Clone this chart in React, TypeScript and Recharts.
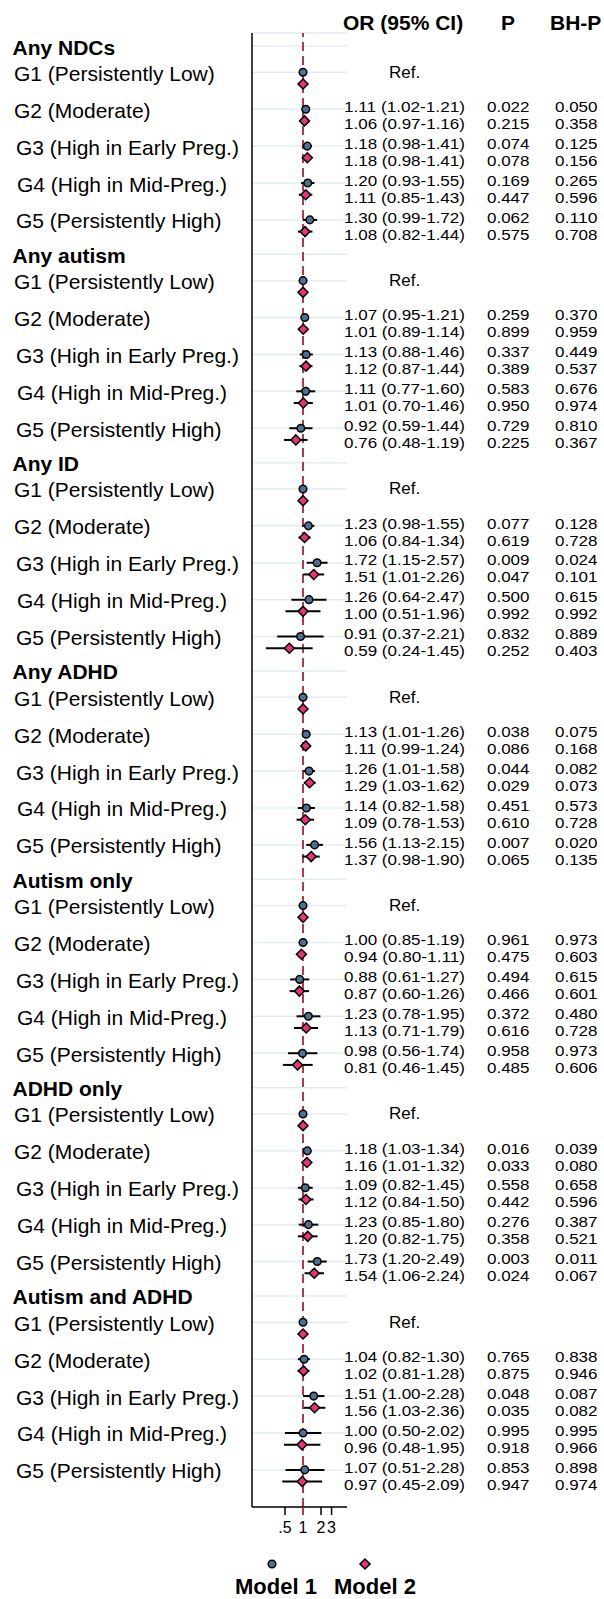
import React from 'react';
import { ScatterChart, Scatter, XAxis, YAxis, CartesianGrid, ReferenceLine, ErrorBar } from 'recharts';

// ---------------- DATA ----------------
const outcomes = ['Any NDCs', 'Any autism', 'Any ID', 'Any ADHD', 'Autism only', 'ADHD only', 'Autism and ADHD'];
const groupLabels = [
  'G1 (Persistently Low)',
  'G2 (Moderate)',
  'G3 (High in Early Preg.)',
  'G4 (High in Mid-Preg.)',
  'G5 (Persistently High)',
];

// Model 1 (G2..G5 for each outcome; G1 is the reference)
const m1Or = [
  [1.11, 1.18, 1.2, 1.3],
  [1.07, 1.13, 1.11, 0.92],
  [1.23, 1.72, 1.26, 0.91],
  [1.13, 1.26, 1.14, 1.56],
  [1.0, 0.88, 1.23, 0.98],
  [1.18, 1.09, 1.23, 1.73],
  [1.04, 1.51, 1.0, 1.07],
];
const m1Lo = [
  [1.02, 0.98, 0.93, 0.99],
  [0.95, 0.88, 0.77, 0.59],
  [0.98, 1.15, 0.64, 0.37],
  [1.01, 1.01, 0.82, 1.13],
  [0.85, 0.61, 0.78, 0.56],
  [1.03, 0.82, 0.85, 1.2],
  [0.82, 1.0, 0.5, 0.51],
];
const m1Hi = [
  [1.21, 1.41, 1.55, 1.72],
  [1.21, 1.46, 1.6, 1.44],
  [1.55, 2.57, 2.47, 2.21],
  [1.26, 1.58, 1.58, 2.15],
  [1.19, 1.27, 1.95, 1.74],
  [1.34, 1.45, 1.8, 2.49],
  [1.3, 2.28, 2.02, 2.28],
];
const m1P = [
  [0.022, 0.074, 0.169, 0.062],
  [0.259, 0.337, 0.583, 0.729],
  [0.077, 0.009, 0.5, 0.832],
  [0.038, 0.044, 0.451, 0.007],
  [0.961, 0.494, 0.372, 0.958],
  [0.016, 0.558, 0.276, 0.003],
  [0.765, 0.048, 0.995, 0.853],
];
const m1Bh = [
  [0.05, 0.125, 0.265, 0.11],
  [0.37, 0.449, 0.676, 0.81],
  [0.128, 0.024, 0.615, 0.889],
  [0.075, 0.082, 0.573, 0.02],
  [0.973, 0.615, 0.48, 0.973],
  [0.039, 0.658, 0.387, 0.011],
  [0.838, 0.087, 0.995, 0.898],
];

// Model 2
const m2Or = [
  [1.06, 1.18, 1.11, 1.08],
  [1.01, 1.12, 1.01, 0.76],
  [1.06, 1.51, 1.0, 0.59],
  [1.11, 1.29, 1.09, 1.37],
  [0.94, 0.87, 1.13, 0.81],
  [1.16, 1.12, 1.2, 1.54],
  [1.02, 1.56, 0.96, 0.97],
];
const m2Lo = [
  [0.97, 0.98, 0.85, 0.82],
  [0.89, 0.87, 0.7, 0.48],
  [0.84, 1.01, 0.51, 0.24],
  [0.99, 1.03, 0.78, 0.98],
  [0.8, 0.6, 0.71, 0.46],
  [1.01, 0.84, 0.82, 1.06],
  [0.81, 1.03, 0.48, 0.45],
];
const m2Hi = [
  [1.16, 1.41, 1.43, 1.44],
  [1.14, 1.44, 1.46, 1.19],
  [1.34, 2.26, 1.96, 1.45],
  [1.24, 1.62, 1.53, 1.9],
  [1.11, 1.26, 1.79, 1.45],
  [1.32, 1.5, 1.75, 2.24],
  [1.28, 2.36, 1.95, 2.09],
];
const m2P = [
  [0.215, 0.078, 0.447, 0.575],
  [0.899, 0.389, 0.95, 0.225],
  [0.619, 0.047, 0.992, 0.252],
  [0.086, 0.029, 0.61, 0.065],
  [0.475, 0.466, 0.616, 0.485],
  [0.033, 0.442, 0.358, 0.024],
  [0.875, 0.035, 0.918, 0.947],
];
const m2Bh = [
  [0.358, 0.156, 0.596, 0.708],
  [0.959, 0.537, 0.974, 0.367],
  [0.728, 0.101, 0.992, 0.403],
  [0.168, 0.073, 0.728, 0.135],
  [0.603, 0.601, 0.728, 0.606],
  [0.08, 0.596, 0.521, 0.067],
  [0.946, 0.082, 0.966, 0.974],
];

const xTicks = [0.5, 1, 2, 3];
const xTickLabels = ['.5', '1', '2', '3'];
const columnHeaders = ['OR (95% CI)', 'P', 'BH-P'];
const seriesNames = ['Model 1', 'Model 2'];
const refText = 'Ref.';

// ---------------- STYLE / LAYOUT ----------------
const FONT = "'Liberation Sans', Arial, Helvetica, sans-serif";
const RED = '#ab3c4a';
const BLUE = '#4b7191';
const PINK = '#e8327b';
const GRID = '#e3ecf0';

const W = 604;
const H = 1560;
const PLOT_TOP = 33;
const PLOT_H = 1474;
const GROUP_STEP = 208.33;
const HEADER_OFF = 13;
const G1_OFF = 26.3;
const G_STEP = 36.9;
const M2_OFF = 11.7;
const labelDx = [1.5, 1.5, 3.5, 4.5, 3.5];

// value text: drawn at 15px, stretched to the width a 17px face would take
const VAL_FS = 15;
const VAL_WIDTH_FS = 17;
const VAL_GAP = 17;
const charW: Record<string, number> = { '.': 0.278, ' ': 0.278, '(': 0.333, ')': 0.333, '-': 0.333 };
const textW = (s: string) => s.split('').reduce((a, c) => a + (charW[c] ?? 0.556), 0) * VAL_WIDTH_FS;

type LeftRow = { y: number; label: string; bold: boolean; x: number };
type RightRow = { y: number; ref: boolean; or: string[]; p: string[]; bh: string[] };

const leftRows: LeftRow[] = [];
const rightRows: RightRow[] = [];
const m1Points: any[] = [];
const m2Points: any[] = [];

const fmtCI = (o: number, l: number, h: number) => `${o.toFixed(2)} (${l.toFixed(2)}-${h.toFixed(2)})`;

outcomes.forEach((name, g) => {
  const hy = HEADER_OFF + g * GROUP_STEP;
  leftRows.push({ y: hy, label: name, bold: true, x: 12.5 });
  groupLabels.forEach((gl, k) => {
    const cy = hy + G1_OFF + k * G_STEP;
    const dy = cy + M2_OFF;
    leftRows.push({ y: cy, label: gl, bold: false, x: 12.5 + labelDx[k] });
    if (k === 0) {
      m1Points.push({ x: 1, y: cy, err: [0, 0] });
      m2Points.push({ x: 1, y: dy, err: [0, 0] });
      rightRows.push({ y: cy - 0.5, ref: true, or: [refText], p: [], bh: [] });
    } else {
      const j = k - 1;
      const o1 = m1Or[g][j], l1 = m1Lo[g][j], h1 = m1Hi[g][j];
      const o2 = m2Or[g][j], l2 = m2Lo[g][j], h2 = m2Hi[g][j];
      m1Points.push({ x: o1, y: cy, err: [o1 - l1, h1 - o1] });
      m2Points.push({ x: o2, y: dy, err: [o2 - l2, h2 - o2] });
      rightRows.push({
        y: (cy + dy) / 2,
        ref: false,
        or: [fmtCI(o1, l1, h1), fmtCI(o2, l2, h2)],
        p: [m1P[g][j].toFixed(3), m2P[g][j].toFixed(3)],
        bh: [m1Bh[g][j].toFixed(3), m2Bh[g][j].toFixed(3)],
      });
    }
  });
});

const leftMap = new Map(leftRows.map((r) => [r.y, r]));
const rightMap = new Map(rightRows.map((r) => [r.y, r]));

const LeftTick = (props: any) => {
  const { y, payload } = props;
  const info = leftMap.get(payload.value);
  if (!info) return null;
  return (
    <text x={info.x} y={y + 8.5} fontFamily={FONT} fontSize={21} fontWeight={info.bold ? 700 : 400} fill="#000" textAnchor="start">
      {info.label}
    </text>
  );
};

const ValText = ({ x, y, s }: { x: number; y: number; s: string }) => (
  <text
    x={x}
    y={y + 0.358 * VAL_FS}
    fontFamily={FONT}
    fontSize={VAL_FS}
    fill="#000"
    textLength={textW(s)}
    lengthAdjust="spacingAndGlyphs"
  >
    {s}
  </text>
);

const RightTick = (props: any) => {
  const { y, payload } = props;
  const r = rightMap.get(payload.value);
  if (!r) return null;
  if (r.ref) {
    return (
      <text x={389} y={y + 6} fontFamily={FONT} fontSize={17} fill="#000">
        {r.or[0]}
      </text>
    );
  }
  const y1 = y - VAL_GAP / 2;
  const y2 = y + VAL_GAP / 2;
  return (
    <g>
      <ValText x={344} y={y1} s={r.or[0]} />
      <ValText x={344} y={y2} s={r.or[1]} />
      <ValText x={487} y={y1} s={r.p[0]} />
      <ValText x={487} y={y2} s={r.p[1]} />
      <ValText x={555} y={y1} s={r.bh[0]} />
      <ValText x={555} y={y2} s={r.bh[1]} />
    </g>
  );
};

const XTick = (props: any) => {
  const { x, y, payload } = props;
  const idx = xTicks.indexOf(payload.value);
  const isOne = payload.value === 1;
  return (
    <g>
      <line x1={x} x2={x} y1={y - 8} y2={y} stroke={isOne ? RED : '#000'} strokeWidth={isOne ? 2 : 1.5} />
      <text x={x} y={y + 18} textAnchor="middle" fontFamily={FONT} fontSize={16} fill="#000">
        {xTickLabels[idx]}
      </text>
    </g>
  );
};

const CircleShape = (p: any) => <circle cx={p.cx} cy={p.cy} r={3.8} fill={BLUE} stroke="#000" strokeWidth={1.5} />;
const DiamondShape = (p: any) => {
  const s = 5;
  return (
    <polygon
      points={`${p.cx},${p.cy - s} ${p.cx + s},${p.cy} ${p.cx},${p.cy + s} ${p.cx - s},${p.cy}`}
      fill={PINK}
      stroke="#000"
      strokeWidth={1.5}
    />
  );
};

export default function App() {
  return (
    <div style={{ position: 'absolute', left: 0, top: 0, width: 604, height: 1599, background: '#fff' }}>
      <ScatterChart width={W} height={H} margin={{ top: PLOT_TOP, right: 0, bottom: 23, left: 0 }}>
        <CartesianGrid yAxisId="left" horizontal vertical={false} stroke={GRID} strokeWidth={1.5} />
        <XAxis
          dataKey="x"
          type="number"
          scale="log"
          domain={[0.1406, 5.43]}
          allowDataOverflow
          ticks={xTicks}
          interval={0}
          tick={<XTick />}
          tickLine={false}
          tickSize={8}
          tickMargin={0}
          height={30}
          axisLine={{ stroke: '#000', strokeWidth: 1.5 }}
        />
        <YAxis
          yAxisId="left"
          dataKey="y"
          type="number"
          domain={[0, PLOT_H]}
          reversed
          allowDataOverflow
          ticks={leftRows.map((r) => r.y)}
          interval={0}
          tick={<LeftTick />}
          tickLine={false}
          width={252}
          axisLine={{ stroke: '#000', strokeWidth: 1.5 }}
        />
        <YAxis
          yAxisId="right"
          orientation="right"
          type="number"
          domain={[0, PLOT_H]}
          reversed
          allowDataOverflow
          ticks={rightRows.map((r) => r.y)}
          interval={0}
          tick={<RightTick />}
          tickLine={false}
          axisLine={false}
          width={257}
        />
        <ReferenceLine yAxisId="left" x={1} stroke={RED} strokeWidth={2} strokeDasharray="9 5" />
        <Scatter name={seriesNames[0]} yAxisId="left" data={m1Points} shape={CircleShape} isAnimationActive={false}>
          <ErrorBar dataKey="err" direction="x" width={0} stroke="#000" strokeWidth={2} isAnimationActive={false} />
        </Scatter>
        <Scatter name={seriesNames[1]} yAxisId="left" data={m2Points} shape={DiamondShape} isAnimationActive={false}>
          <ErrorBar dataKey="err" direction="x" width={0} stroke="#000" strokeWidth={2} isAnimationActive={false} />
        </Scatter>
      </ScatterChart>
      <svg width={604} height={1599} style={{ position: 'absolute', left: 0, top: 0, pointerEvents: 'none' }}>
        <g fontFamily={FONT} fontSize={21} fontWeight={700} fill="#000">
          <text x={343} y={30}>{columnHeaders[0]}</text>
          <text x={501} y={30}>{columnHeaders[1]}</text>
          <text x={550} y={30}>{columnHeaders[2]}</text>
        </g>
        <circle cx={272} cy={1564} r={3.8} fill={BLUE} stroke="#000" strokeWidth={1.5} />
        <polygon points="365,1559 370,1564 365,1569 360,1564" fill={PINK} stroke="#000" strokeWidth={1.5} />
        <g fontFamily={FONT} fontSize={22} fontWeight={700} fill="#000" textAnchor="middle">
          <text x={276} y={1594}>{seriesNames[0]}</text>
          <text x={375} y={1594}>{seriesNames[1]}</text>
        </g>
      </svg>
    </div>
  );
}
